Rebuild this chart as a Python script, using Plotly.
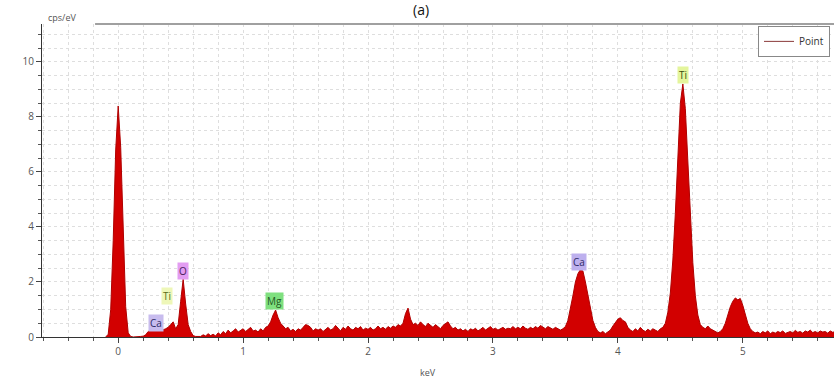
import plotly.graph_objects as go

# EDS spectrum: counts (cps/eV) per 0.02 keV channel, first channel at -0.10 keV
CHANNEL_START_KEV = -0.10
CHANNEL_STEP_KEV = 0.02
counts = [
    0.0, 0.1, 1.0, 3.5, 6.8, 8.4, 6.9, 3.6, 1.1, 0.15,
    0.02, 0.0, 0.0, 0.01, 0.02, 0.03, 0.08, 0.2, 0.25, 0.3,
    0.28, 0.33, 0.3, 0.26, 0.3, 0.35, 0.45, 0.55, 0.3, 0.45,
    1.3, 2.1, 1.2, 0.45, 0.2, 0.05, 0.02, 0.03, 0.02, 0.08,
    0.04, 0.12, 0.05, 0.1, 0.04, 0.15, 0.08, 0.2, 0.12, 0.25,
    0.15, 0.22, 0.3, 0.18, 0.25, 0.3, 0.2, 0.28, 0.35, 0.22,
    0.25, 0.18, 0.3, 0.22, 0.35, 0.4, 0.55, 0.8, 0.98, 0.7,
    0.5, 0.4, 0.3, 0.35, 0.22, 0.28, 0.2, 0.3, 0.25, 0.35,
    0.45, 0.42, 0.35, 0.22, 0.3, 0.25, 0.3, 0.2, 0.28, 0.35,
    0.25, 0.3, 0.42, 0.3, 0.22, 0.35, 0.28, 0.4, 0.3, 0.25,
    0.35, 0.3, 0.38, 0.25, 0.32, 0.28, 0.35, 0.25, 0.3, 0.4,
    0.3, 0.35, 0.28, 0.38, 0.32, 0.4, 0.35, 0.45, 0.4, 0.5,
    0.85, 1.05, 0.65, 0.45, 0.5, 0.42, 0.55, 0.45, 0.38, 0.5,
    0.42, 0.35, 0.45, 0.38, 0.3, 0.42, 0.5, 0.55, 0.4, 0.3,
    0.35, 0.25, 0.3, 0.22, 0.28, 0.2, 0.3, 0.25, 0.32, 0.22,
    0.28, 0.35, 0.25, 0.3, 0.38, 0.28, 0.32, 0.25, 0.3, 0.35,
    0.28, 0.32, 0.3, 0.38, 0.3, 0.35, 0.3, 0.4, 0.32, 0.28,
    0.35, 0.3, 0.38, 0.32, 0.42, 0.35, 0.3, 0.38, 0.32, 0.28,
    0.35, 0.3, 0.25, 0.3, 0.38, 0.6, 1.0, 1.5, 2.0, 2.3,
    2.45, 2.4, 2.0, 1.5, 1.0, 0.6, 0.35, 0.2, 0.15, 0.2,
    0.12, 0.18, 0.25, 0.4, 0.55, 0.65, 0.7, 0.6, 0.55, 0.35,
    0.25, 0.2, 0.3, 0.22, 0.35, 0.25, 0.2, 0.28, 0.22, 0.3,
    0.25, 0.2, 0.3, 0.35, 0.5, 0.9, 1.6, 2.8, 4.5, 6.6,
    8.5, 9.2, 8.3, 6.4, 4.4, 2.7, 1.5, 0.8, 0.45, 0.35,
    0.3, 0.4, 0.3, 0.25, 0.2, 0.15, 0.2, 0.3, 0.5, 0.8,
    1.1, 1.3, 1.42, 1.35, 1.4, 1.15, 0.8, 0.5, 0.3, 0.2,
    0.15, 0.18, 0.12, 0.2, 0.15, 0.22, 0.12, 0.18, 0.14, 0.2,
    0.16, 0.22, 0.13, 0.18, 0.2, 0.15, 0.24, 0.17, 0.2, 0.14,
    0.22, 0.18, 0.25, 0.16, 0.2, 0.15, 0.22, 0.18, 0.2, 0.14,
    0.22, 0.17, 0.2, 0.18, 0.2,
]
energies = [round(CHANNEL_START_KEV + CHANNEL_STEP_KEV * i, 4) for i in range(len(counts))]

# Element line markers
element_labels = ["Ti", "Ca", "O", "Ti", "Ca", "Mg"]
element_kev = [4.52, 3.69, 0.52, 0.39, 0.30, 1.25]
element_y = [9.53, 2.73, 2.40, 1.49, 0.51, 1.31]
element_bg = ["#e4f59c", "#bdb0ee", "#e39df2", "#eef7b8", "#c8bcee", "#7fe07f"]
element_fg = ["#3d4a10", "#2e2a66", "#4a1d5c", "#5a6a18", "#2e2a66", "#1f5a1f"]

x_range = [-0.61, 5.73]
y_range = [0, 11.38]

fig = go.Figure()

fig.add_trace(go.Scatter(
    x=energies, y=counts,
    mode="lines",
    fill="tozeroy",
    fillcolor="#d20000",
    line=dict(color="#b00000", width=1),
    showlegend=False,
    hoverinfo="skip",
))

# Legend entry drawn as a plain line
fig.add_trace(go.Scatter(
    x=[None], y=[None],
    mode="lines",
    name="Point",
    line=dict(color="#8a3a3a", width=1),
))

for lab, ex, ey, bg, fg in zip(element_labels, element_kev, element_y, element_bg, element_fg):
    fig.add_annotation(
        x=ex, y=ey, xref="x", yref="y",
        text=lab, showarrow=False,
        font=dict(family="Open Sans", size=10, color=fg),
        bgcolor=bg, borderpad=1,
    )

grid_color = "#dedede"
fig.update_xaxes(
    range=x_range,
    dtick=1, tick0=0,
    showline=True, linecolor="#333333", linewidth=1,
    ticks="outside", ticklen=5, tickcolor="#444444",
    showgrid=True, gridcolor=grid_color, griddash="dot", gridwidth=1,
    zeroline=False,
    tickfont=dict(family="Open Sans", size=10, color="#555555"),
    minor=dict(dtick=0.2, tick0=0, ticks="outside", ticklen=3, tickcolor="#555555",
               showgrid=True, gridcolor=grid_color, griddash="dot"),
)
fig.update_yaxes(
    range=y_range,
    dtick=2, tick0=0,
    showline=True, linecolor="#333333", linewidth=1,
    ticks="outside", ticklen=5, tickcolor="#444444",
    showgrid=True, gridcolor=grid_color, griddash="dot", gridwidth=1,
    zeroline=False,
    tickfont=dict(family="Open Sans", size=10, color="#555555"),
    minor=dict(dtick=0.5, tick0=0, ticks="outside", ticklen=3, tickcolor="#555555",
               showgrid=True, gridcolor=grid_color, griddash="dot"),
)

# Top frame line
fig.add_shape(type="line", xref="paper", yref="paper",
              x0=0.067, x1=1.0, y0=1.0, y1=1.0,
              line=dict(color="#a0a0a0", width=2))

# Axis captions
fig.add_annotation(x=0.0, y=1.0, xref="paper", yref="paper",
                   xanchor="left", yanchor="bottom", xshift=4, yshift=-2,
                   text="cps/eV", showarrow=False,
                   font=dict(family="Open Sans", size=9, color="#555555"))
fig.add_annotation(x=(428 - 42) / 792, y=0, xref="paper", yref="paper",
                   xanchor="center", yanchor="top", yshift=-27,
                   text="keV", showarrow=False,
                   font=dict(family="Open Sans", size=9, color="#555555"))

# Panel letter
fig.add_annotation(x=(421 - 42) / 792, y=1.0, xref="paper", yref="paper",
                   xanchor="center", yanchor="bottom", yshift=3,
                   text="(a)", showarrow=False,
                   font=dict(family="Open Sans", size=14, color="#111111"))

fig.update_layout(
    width=834, height=381,
    margin=dict(l=42, r=0, t=24, b=44),
    plot_bgcolor="white", paper_bgcolor="white",
    legend=dict(x=(758 - 42) / 792, y=0.994, xanchor="left", yanchor="top",
                bgcolor="white", bordercolor="#888888", borderwidth=1,
                font=dict(family="Open Sans", size=10, color="#333333"),
                itemwidth=30, tracegroupgap=0),
)

fig.write_html("out.html")
